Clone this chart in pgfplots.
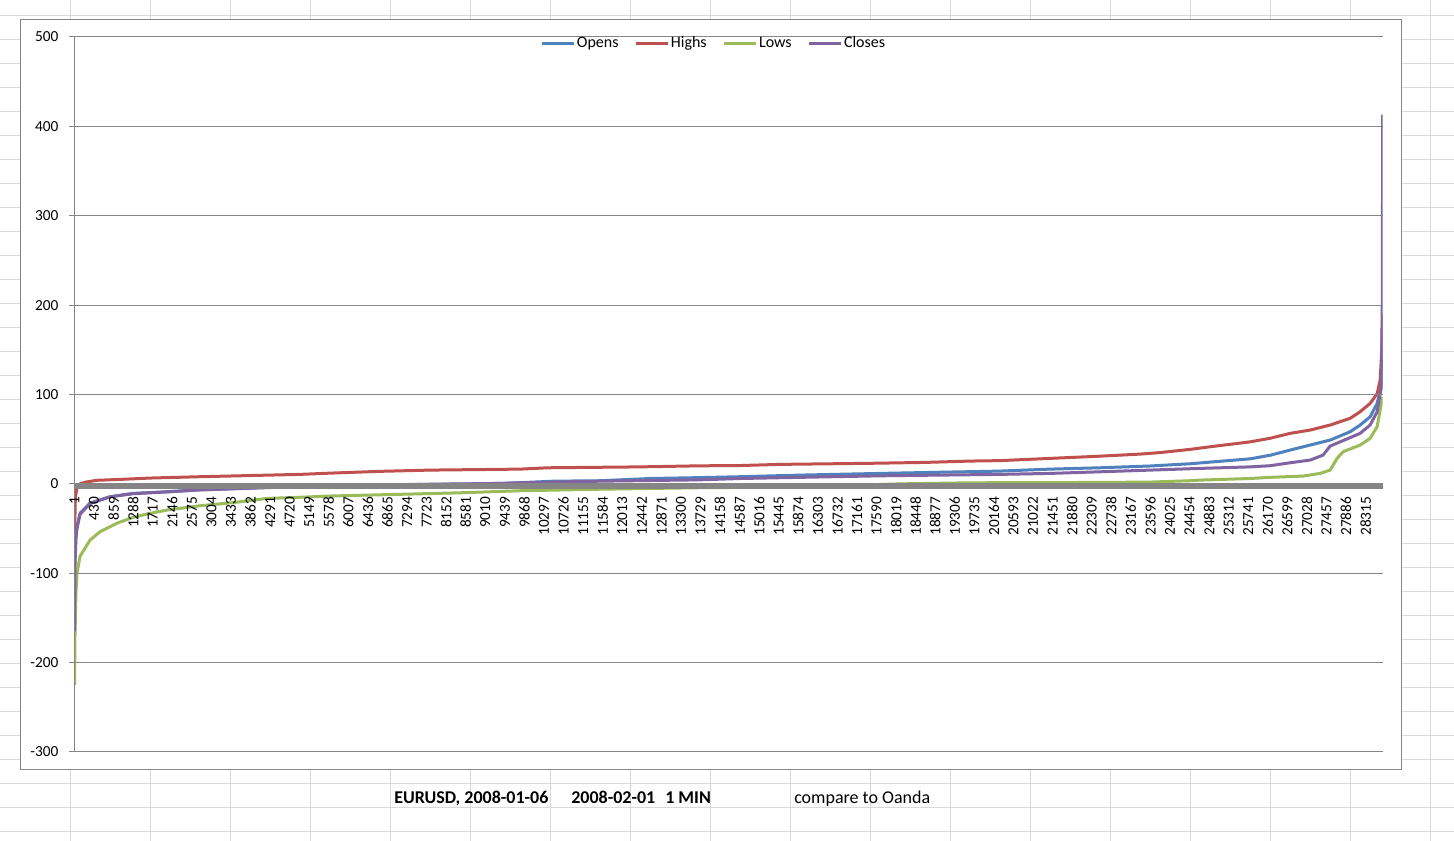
\documentclass[border=0pt]{standalone}
\usepackage{fontspec}
\setmainfont{Carlito}
\usepackage{pgfplots}
\pgfplotsset{compat=1.18}
\definecolor{xlblue}{HTML}{4F81BD}
\definecolor{xlred}{HTML}{C0504D}
\definecolor{xlgreen}{HTML}{9BBB59}
\definecolor{xlpurple}{HTML}{8064A2}
\definecolor{gridgray}{HTML}{868686}
\definecolor{bandgray}{HTML}{858585}
\definecolor{sheetgrid}{HTML}{D9D9D9}
\begin{document}
\fontsize{11}{13}\selectfont
\begin{tikzpicture}
\useasboundingbox (0pt,0pt) rectangle (1090.5pt,630.75pt);
\begin{scope}[x=0.75pt,y=0.75pt]
\fill[white] (0,0) rectangle (1454,841);
\foreach \i in {0,...,17} \draw[sheetgrid, line width=0.75pt] ({70+80*\i},0) -- ({70+80*\i},841);
\foreach \j in {0,...,34} \draw[sheetgrid, line width=0.75pt] (0,{841-16-24*\j}) -- (1454,{841-16-24*\j});
\filldraw[fill=white, draw=gridgray, line width=0.75pt] (20.5,{841-19.5}) rectangle (1401,{841-770});
\node[anchor=base west, inner sep=0pt, font=\fontsize{13.5}{15}\selectfont\bfseries] at (394,{841-803.5}) {EURUSD, 2008-01-06};
\node[anchor=base west, inner sep=0pt, font=\fontsize{13.5}{15}\selectfont\bfseries] at (571,{841-803.5}) {2008-02-01};
\node[anchor=base west, inner sep=0pt, font=\fontsize{13.5}{15}\selectfont\bfseries] at (665,{841-803.5}) {1 MIN};
\node[anchor=base west, inner sep=0pt, font=\fontsize{13.5}{15}\selectfont] at (794,{841-803.5}) {compare to Oanda};
\end{scope}
\begin{axis}[
  at={(55.875pt,66.75pt)}, anchor=south west,
  scale only axis, width=981.15pt, height=536.25pt,
  xmin=1, xmax=28690, ymin=-300, ymax=500,
  axis x line*=middle, axis y line*=left,
  hide obscured x ticks=false, hide obscured y ticks=false,
  ytick={-300,-200,-100,0,100,200,300,400,500},
  xtick={1,430,859,1288,1717,2146,2575,3004,3433,3862,4291,4720,5149,5578,6007,6436,6865,7294,7723,8152,8581,9010,9439,9868,10297,10726,11155,11584,12013,12442,12871,13300,13729,14158,14587,15016,15445,15874,16303,16732,17161,17590,18019,18448,18877,19306,19735,20164,20593,21022,21451,21880,22309,22738,23167,23596,24025,24454,24883,25312,25741,26170,26599,27028,27457,27886,28315},
  scaled x ticks=false, scaled y ticks=false,
  xticklabel style={rotate=90, anchor=east, xshift=-2pt, /pgf/number format/fixed, /pgf/number format/precision=0, /pgf/number format/1000 sep={}},
  yticklabel style={xshift=-4.5pt},
  x axis line style={draw=bandgray, line width=4.5pt, yshift=-1.9pt, -},
  y axis line style={draw=gridgray, line width=0.75pt, -},
  ymajorgrids, grid style={draw=gridgray, line width=0.75pt},
  x tick style={draw=none},
  y tick style={draw=gridgray, line width=0.75pt},
  tick align=outside, major tick length=3.75pt,
  /pgf/number format/assume math mode=true,
  tick label style={font=\fontsize{11.5}{13}\selectfont},
  axis on top,
  legend columns=4,
  legend cell align=left,
  legend style={draw=none, fill=none, at={(0.4885,0.9915)}, anchor=center,
    font=\fontsize{12}{14}\selectfont,
    nodes={inner sep=1pt},
    /tikz/every odd column/.append style={column sep=0pt},
    /tikz/every even column/.append style={column sep=11pt}},
  legend image code/.code={\draw[#1, line width=2.25pt] (0pt,0pt) -- (24pt,0pt);},
]
\addplot[xlblue, line width=2.25pt, line join=round] coordinates {
(1,-130) (12,-80) (34,-55) (56,-48) (122,-33) (341,-21.5) (780,-14.4) (1284,-10.7) (2030,-8.8) (2753,-6.6) (4223,-4) (4947,-2.5) (6000,-1.5) (8895,0) (9333,0.5) (9772,1.3) (10500,3) (11527,3.5) (12623,6) (13720,7) (14597,8) (15913,9.8) (17667,11.7) (20299,14.3) (21396,16.5) (22492,18) (23589,20) (24466,22.5) (25782,28) (26220,32) (26659,37.8) (27098,43.4) (27537,49) (27975,58.3) (28195,65.8) (28414,75) (28568,90) (28650,108) (28675,127) (28690,140)
};
\addlegendentry{Opens}
\addplot[xlred, line width=2.25pt, line join=round] coordinates {
(1,-60) (20,-15) (60,-3) (122,0) (250,2) (494,4) (1000,5) (1657,6.5) (2753,8) (4947,10.6) (5605,12) (6701,14) (7798,15.4) (9772,16.5) (10386,18) (12404,19) (13720,20.2) (14597,20.5) (15474,21.8) (17448,23) (18654,24) (19641,25.5) (20299,26) (21396,28.5) (22492,31) (23369,33.3) (23808,35) (24466,38.6) (24905,41.5) (25782,47) (26220,51) (26659,56.5) (27098,60.2) (27537,65.8) (27975,73.3) (28195,80.7) (28414,90) (28568,101) (28634,116) (28670,150) (28680,172) (28690,190)
};
\addlegendentry{Highs}
\addplot[xlgreen, line width=2.25pt, line join=round] coordinates {
(1,-225) (12,-170) (34,-120) (56,-100) (122,-81) (341,-63) (560,-53.6) (933,-44) (1284,-37.5) (1657,-33) (2030,-29.3) (2753,-24.5) (3477,-21) (4223,-16.3) (4947,-15) (5605,-13.6) (7140,-11.7) (8456,-10) (9772,-7.7) (11527,-6) (13720,-4.3) (14597,-4) (17009,-1.7) (18106,0) (19641,1.2) (22492,1.6) (23589,2) (24466,3.5) (24686,4.2) (25782,6) (26220,7.3) (26944,8.7) (27317,11.7) (27537,15.4) (27690,28.5) (27822,36) (28195,43.4) (28414,50.9) (28568,64) (28660,90) (28690,97)
};
\addlegendentry{Lows}
\addplot[xlpurple, line width=2.25pt, line join=round] coordinates {
(1,-165) (12,-90) (34,-60) (56,-50) (122,-34) (341,-22) (780,-14.5) (1284,-11) (2030,-9) (2753,-6.8) (4223,-4.2) (4947,-2.6) (6000,-1.5) (9333,0.5) (10500,2) (11527,3) (13720,4.5) (14597,6) (17667,9) (20299,10.6) (21396,11.7) (22492,13.5) (23589,15.4) (24686,17.3) (25782,19) (26220,20.3) (26659,23.6) (27098,26.6) (27383,32.2) (27537,42.3) (27756,47) (28195,56.5) (28414,65.8) (28568,80.7) (28660,108) (28680,200) (28690,413)
};
\addlegendentry{Closes}
\end{axis}
\end{tikzpicture}
\end{document}
